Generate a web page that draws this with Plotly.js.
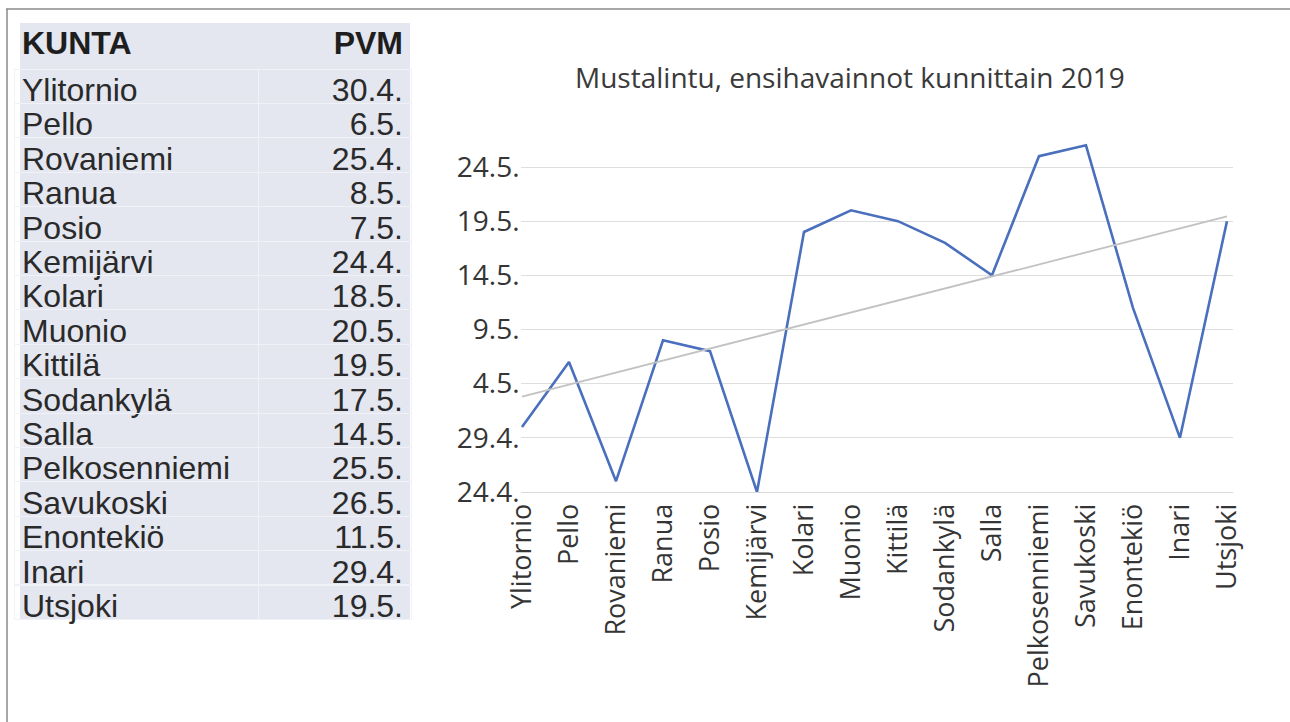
<!DOCTYPE html>
<html><head><meta charset="utf-8">
<script src="https://cdn.plot.ly/plotly-3.0.1.min.js"></script>
<style>html,body{margin:0;padding:0;background:#fff;} #chart{width:1290px;height:722px;}</style>
</head><body><div id="chart"></div>
<script>
const municipalities = ['Ylitornio','Pello','Rovaniemi','Ranua','Posio','Kemijärvi','Kolari','Muonio','Kittilä','Sodankylä','Salla','Pelkosenniemi','Savukoski','Enontekiö','Inari','Utsjoki'];
const firstSightings = ['30.4.','6.5.','25.4.','8.5.','7.5.','24.4.','18.5.','20.5.','19.5.','17.5.','14.5.','25.5.','26.5.','11.5.','29.4.','19.5.'];
const dataYear = 2019;
const yTickLabels = ['24.4.','29.4.','4.5.','9.5.','14.5.','19.5.','24.5.'];
const tableHeader = ['KUNTA','PVM'];
const chartTitle = 'Mustalintu, ensihavainnot kunnittain 2019';
const yRange = ['24.4.','27.5.'];

function toMs(s){ const p = s.split('.'); return Date.UTC(dataYear, Number(p[1]) - 1, Number(p[0])); }
const yMs = firstSightings.map(toMs);
const yTickVals = yTickLabels.map(toMs);

// Linear trendline (least squares over category index), as in the source spreadsheet chart
const n = yMs.length;
const idx = municipalities.map((_, i) => i);
const mx = idx.reduce((a, b) => a + b, 0) / n;
const my = yMs.reduce((a, b) => a + b, 0) / n;
let sxy = 0, sxx = 0;
for (let i = 0; i < n; i++) { sxy += (idx[i] - mx) * (yMs[i] - my); sxx += (idx[i] - mx) ** 2; }
const slope = sxy / sxx, icpt = my - slope * mx;
const trendX = [municipalities[0], municipalities[n - 1]];
const trendY = [icpt, icpt + slope * (n - 1)];

const W = 1290, H = 722;
const px = v => v / W, py = v => 1 - v / H;
const tableFont = 'Liberation Sans, Arial, sans-serif';
const chartFont = 'Open Sans, Noto Sans, sans-serif';
const clear = 'rgba(0,0,0,0)';

const traces = [
  {
    type: 'scatter', mode: 'lines',
    x: municipalities, y: yMs,
    line: {color: '#4a6fbd', width: 2.6},
    showlegend: false
  },
  {
    type: 'scatter', mode: 'lines',
    x: trendX, y: trendY,
    line: {color: '#c2c2c2', width: 1.8},
    hoverinfo: 'skip', showlegend: false
  },
  {
    type: 'table',
    domain: {x: [px(14), px(411)], y: [py(640), py(17)]},
    columnwidth: [244, 153],
    header: {
      values: tableHeader.map(h => '<b>' + h + '</b>'),
      align: ['left', 'right'],
      fill: {color: clear},
      line: {color: clear, width: 1},
      font: {family: tableFont, size: 32, color: '#1e1e1e'},
      height: 43
    },
    cells: {
      values: [municipalities, firstSightings],
      align: ['left', 'right'],
      fill: {color: clear},
      line: {color: '#f1f2f7', width: 1},
      font: {family: tableFont, size: 32, color: '#2a2a2a'},
      height: 34.4
    }
  }
];

const layout = {
  width: W, height: H,
  margin: {l: 0, r: 0, t: 0, b: 0},
  paper_bgcolor: '#ffffff', plot_bgcolor: '#ffffff',
  showlegend: false,
  xaxis: {
    type: 'category', categoryorder: 'array', categoryarray: municipalities,
    domain: [px(520.6), px(1232.6)],
    range: [-0.03, 15.12],
    tickangle: -90,
    tickfont: {family: chartFont, size: 27, color: '#353535'},
    showgrid: false, zeroline: false,
    showline: true, linecolor: '#d9d9d9', linewidth: 1,
    ticks: '', automargin: false
  },
  yaxis: {
    type: 'date',
    domain: [py(492), py(134.5)],
    range: yRange.map(toMs),
    tickvals: yTickVals, ticktext: yTickLabels,
    tickfont: {family: chartFont, size: 28, color: '#353535'},
    showgrid: true, gridcolor: '#dedede', gridwidth: 1,
    zeroline: false, showline: false, ticks: '', automargin: false
  },
  annotations: [{
    text: chartTitle, xref: 'paper', yref: 'paper',
    x: px(850), y: py(77), xanchor: 'center', yanchor: 'middle', showarrow: false,
    font: {family: chartFont, size: 28, color: '#3a3a3a'}
  }],
  shapes: [
    {type: 'rect', xref: 'paper', yref: 'paper', layer: 'below', x0: px(20), x1: px(410), y0: py(619), y1: py(23), fillcolor: '#e4e6f0', line: {width: 0}},
    {type: 'line', xref: 'paper', yref: 'paper', x0: px(7), x1: px(7), y0: 0, y1: py(9), line: {color: '#8a8a8a', width: 1.5}},
    {type: 'line', xref: 'paper', yref: 'paper', x0: px(6), x1: 1, y0: py(9), y1: py(9), line: {color: '#8a8a8a', width: 1.5}}
  ]
};

Plotly.newPlot('chart', traces, layout, {displayModeBar: false, staticPlot: true});
</script></body></html>
